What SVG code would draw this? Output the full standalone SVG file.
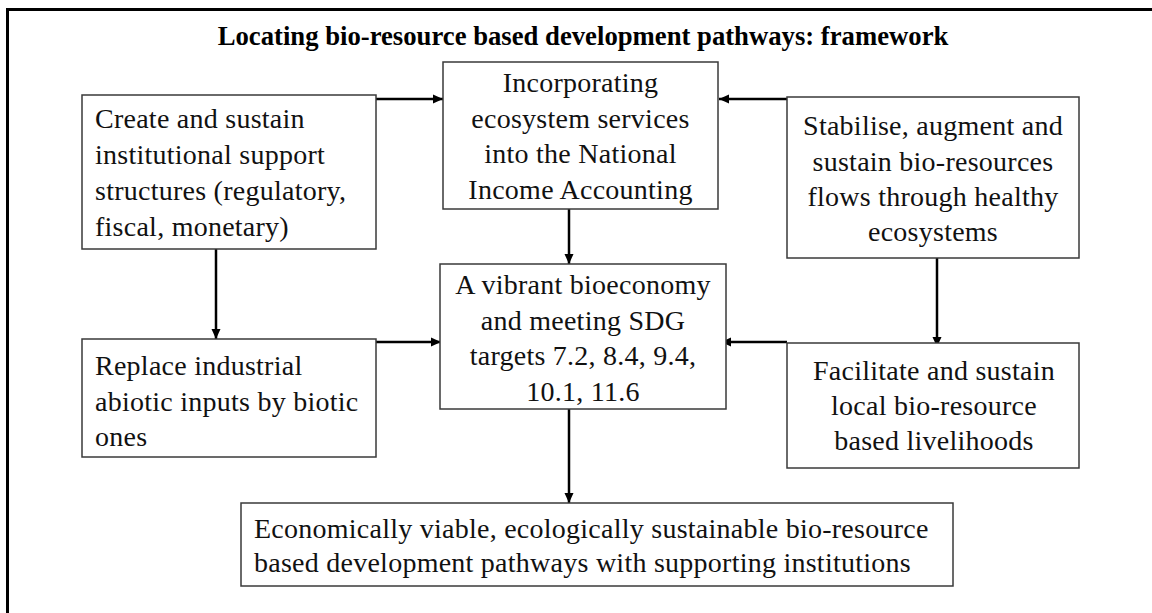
<svg xmlns="http://www.w3.org/2000/svg" width="1152" height="613" viewBox="0 0 1152 613">
<defs>
<marker id="arr" markerUnits="userSpaceOnUse" markerWidth="12" markerHeight="10" refX="10" refY="5" orient="auto">
<path d="M0,0.5 L10,5 L0,9.5 Z" fill="#000"/>
</marker>
<style>
.box{fill:#fff;stroke:#3a3a3a;stroke-width:1.5}
.t{font-family:"Liberation Serif","Times New Roman",serif;font-size:28px;letter-spacing:0.25px;fill:#111}
.c{text-anchor:middle}
.title{font-family:"Liberation Serif","Times New Roman",serif;font-size:26.7px;font-weight:bold;fill:#000;text-anchor:middle}
.con{stroke:#000;stroke-width:2.5;fill:none;marker-end:url(#arr)}
</style>
</defs>
<rect width="1152" height="613" fill="#fff"/>
<rect x="7.5" y="9.5" width="1200" height="700" fill="none" stroke="#000" stroke-width="3"/>
<text class="title" x="583" y="45">Locating bio-resource based development pathways: framework</text>

<g id="connectors">
<line class="con" x1="376" y1="99" x2="443" y2="99"/>
<line class="con" x1="787" y1="99" x2="719" y2="99"/>
<line class="con" x1="569" y1="209" x2="569" y2="264"/>
<line class="con" x1="216" y1="249" x2="216" y2="339"/>
<line class="con" x1="376" y1="342" x2="441" y2="342"/>
<line class="con" x1="787" y1="342" x2="721" y2="342"/>
<line class="con" x1="937" y1="258" x2="937" y2="347"/>
<line class="con" x1="569" y1="409" x2="569" y2="503"/>
</g>

<g id="n-institutional">
<rect class="box" x="82" y="95" width="294" height="154"/>
<text class="t" x="95" y="128">Create and sustain</text>
<text class="t" x="95" y="164">institutional support</text>
<text class="t" x="95" y="200">structures (regulatory,</text>
<text class="t" x="95" y="236">fiscal, monetary)</text>
</g>

<g id="n-accounting">
<rect class="box" x="443" y="62" width="275" height="147"/>
<text class="t c" x="580.5" y="92">Incorporating</text>
<text class="t c" x="580.5" y="127.5">ecosystem services</text>
<text class="t c" x="580.5" y="163">into the National</text>
<text class="t c" x="580.5" y="198.5">Income Accounting</text>
</g>

<g id="n-stabilise">
<rect class="box" x="787" y="97" width="292" height="161"/>
<text class="t c" x="933" y="135">Stabilise, augment and</text>
<text class="t c" x="933" y="170.5">sustain bio-resources</text>
<text class="t c" x="933" y="205.5">flows through healthy</text>
<text class="t c" x="933" y="240.5">ecosystems</text>
</g>

<g id="n-bioeconomy">
<rect class="box" x="440" y="264" width="286" height="145"/>
<text class="t c" x="583" y="294">A vibrant bioeconomy</text>
<text class="t c" x="583" y="329.5">and meeting SDG</text>
<text class="t c" x="583" y="365">targets 7.2, 8.4, 9.4,</text>
<text class="t c" x="583" y="400.5">10.1, 11.6</text>
</g>

<g id="n-replace">
<rect class="box" x="82" y="339" width="294" height="118"/>
<text class="t" x="95" y="375">Replace industrial</text>
<text class="t" x="95" y="411">abiotic inputs by biotic</text>
<text class="t" x="95" y="446">ones</text>
</g>

<g id="n-livelihoods">
<rect class="box" x="787" y="343" width="292" height="125"/>
<text class="t c" x="934" y="380">Facilitate and sustain</text>
<text class="t c" x="934" y="415">local bio-resource</text>
<text class="t c" x="934" y="450">based livelihoods</text>
</g>

<g id="n-pathways">
<rect class="box" x="241" y="503" width="712" height="83"/>
<text class="t" x="254" y="538">Economically viable, ecologically sustainable bio-resource</text>
<text class="t" x="254" y="572">based development pathways with supporting institutions</text>
</g>
</svg>
